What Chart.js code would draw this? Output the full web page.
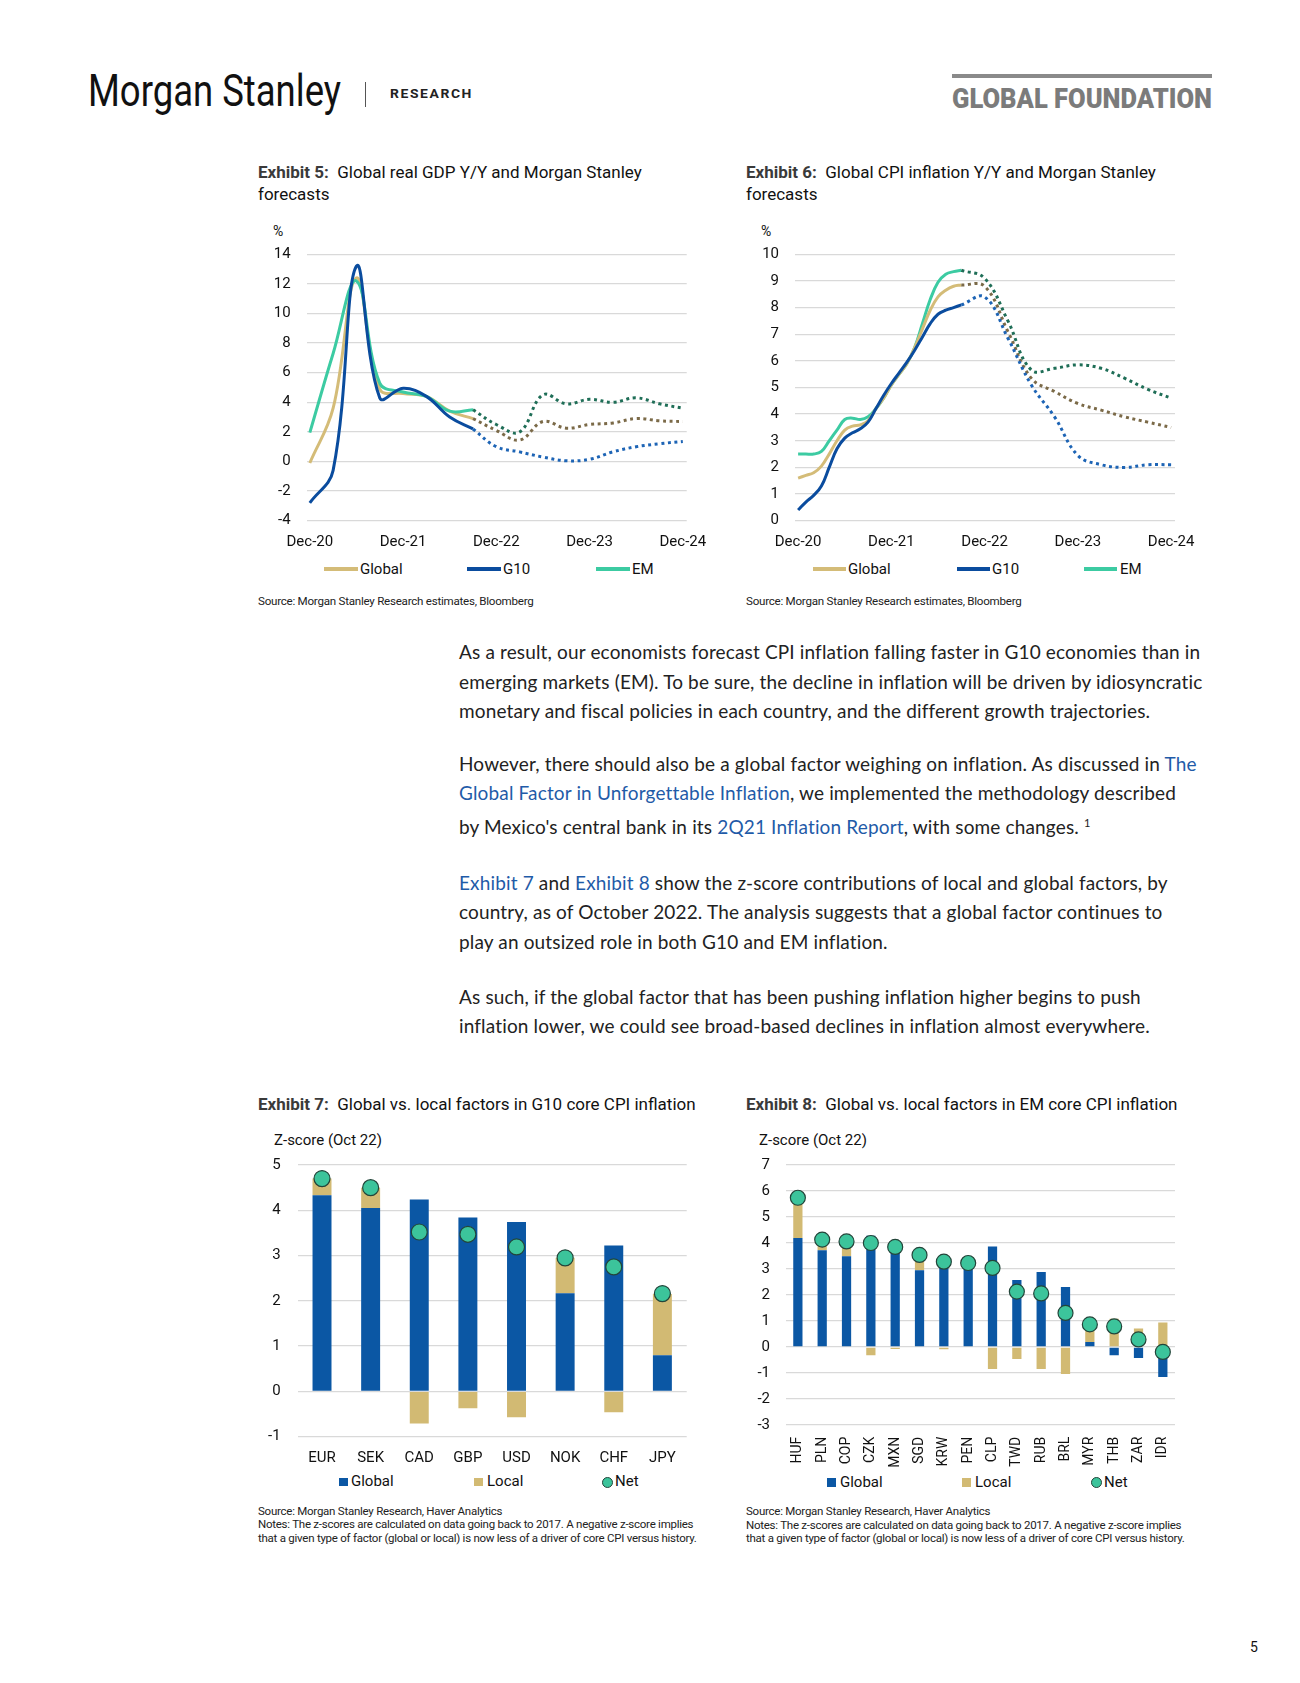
<!DOCTYPE html>
<html>
<head>
<meta charset="utf-8">
<script src="https://cdn.jsdelivr.net/npm/chart.js"></script>
<style>
  body { margin: 0; background: #fff; }
  #page { position: relative; width: 1300px; height: 1683px; overflow: hidden; font-family: Roboto, sans-serif; color: #111; }
  .abs { position: absolute; white-space: nowrap; }
  canvas.chart { position: absolute; }
  .title { font-size: 17px; line-height: 21.5px; color: #111; }
  .title b { color: #3a3a3a; }
  .src { font-size: 11.6px; line-height: 13px; color: #222; letter-spacing: -0.25px; }
  .notes { font-size: 11.5px; line-height: 13.5px; color: #222; letter-spacing: -0.25px; }
  .lg { font-size: 15px; line-height: 15px; color: #111; }
  .body { font-family: Lato, sans-serif; font-size: 19px; line-height: 29.5px; color: #222; letter-spacing: 0.15px; }
  .body a { color: #1f5ba8; text-decoration: none; }
  .body sup { font-size: 11px; line-height: 0; }
</style>
</head>
<body>
<div id="page">
  <!-- header -->
  <div class="abs" data-fit="253" style="left:88px;top:69px;font-size:44px;line-height:44px;color:#111;transform-origin:left;">Morgan Stanley</div>
  <div class="abs" style="left:365px;top:82px;width:1px;height:25px;background:#555;"></div>
  <div class="abs" data-fit="83" style="left:390px;top:87px;font-size:13px;line-height:13px;font-weight:bold;letter-spacing:1.5px;color:#222;transform-origin:left;">RESEARCH</div>
  <div class="abs" style="left:952px;top:74px;width:260px;height:4px;background:#8a8a8a;"></div>
  <div class="abs" data-fit="260" style="left:952px;top:84.5px;font-size:28px;line-height:28px;font-weight:900;color:#7b7b7b;transform-origin:left;">GLOBAL FOUNDATION</div>

  <!-- exhibit 5 -->
  <div class="abs title" style="left:258px;top:162px;"><b>Exhibit 5:</b>&nbsp; Global real GDP Y/Y and Morgan Stanley<br>forecasts</div>
  <div class="abs" style="left:273px;top:224px;font-size:14px;line-height:14px;">%</div>
  <canvas class="chart" id="c5" width="460" height="320" style="left:250px;top:240px;width:460px;height:320px;"></canvas>
  <div class="abs" style="left:324px;top:567px;width:34px;height:4px;background:#d4bc78;"></div>
  <div class="abs lg" style="left:360px;top:561.5px;">Global</div>
  <div class="abs" style="left:467px;top:567px;width:34px;height:4px;background:#0a4c9e;"></div>
  <div class="abs lg" style="left:503px;top:561.5px;">G10</div>
  <div class="abs" style="left:596px;top:567px;width:34px;height:4px;background:#3ccba2;"></div>
  <div class="abs lg" style="left:632px;top:561.5px;">EM</div>
  <div class="abs src" style="left:258px;top:594.5px;">Source: Morgan Stanley Research estimates, Bloomberg</div>

  <!-- exhibit 6 -->
  <div class="abs title" style="left:746px;top:162px;"><b>Exhibit 6:</b>&nbsp; Global CPI inflation Y/Y and Morgan Stanley<br>forecasts</div>
  <div class="abs" style="left:761px;top:224px;font-size:14px;line-height:14px;">%</div>
  <canvas class="chart" id="c6" width="460" height="320" style="left:740px;top:240px;width:460px;height:320px;"></canvas>
  <div class="abs" style="left:813px;top:567px;width:33px;height:4px;background:#d4bc78;"></div>
  <div class="abs lg" style="left:848px;top:561.5px;">Global</div>
  <div class="abs" style="left:957px;top:567px;width:33px;height:4px;background:#0a4c9e;"></div>
  <div class="abs lg" style="left:992px;top:561.5px;">G10</div>
  <div class="abs" style="left:1084px;top:567px;width:33px;height:4px;background:#3ccba2;"></div>
  <div class="abs lg" style="left:1120px;top:561.5px;">EM</div>
  <div class="abs src" style="left:746px;top:594.5px;">Source: Morgan Stanley Research estimates, Bloomberg</div>

  <!-- body text -->
  <div class="abs body" style="left:459px;top:637px;">As a result, our economists forecast CPI inflation falling faster in G10 economies than in<br>emerging markets (EM). To be sure, the decline in inflation will be driven by idiosyncratic<br>monetary and fiscal policies in each country, and the different growth trajectories.</div>
  <div class="abs body" style="left:459px;top:748.5px;">However, there should also be a global factor weighing on inflation. As discussed in <a>The</a><br><a>Global Factor in Unforgettable Inflation</a>, we implemented the methodology described<br><span style="display:inline-block;margin-top:4px;">by Mexico's central bank in its <a>2Q21 Inflation Report</a>, with some changes. <sup>1</sup></span></div>
  <div class="abs body" style="left:459px;top:867.5px;"><a>Exhibit 7</a> and <a>Exhibit 8</a> show the z-score contributions of local and global factors, by<br>country, as of October 2022. The analysis suggests that a global factor continues to<br>play an outsized role in both G10 and EM inflation.</div>
  <div class="abs body" style="left:459px;top:981.5px;">As such, if the global factor that has been pushing inflation higher begins to push<br>inflation lower, we could see broad-based declines in inflation almost everywhere.</div>

  <!-- exhibit 7 -->
  <div class="abs title" style="left:258px;top:1094px;"><b>Exhibit 7:</b>&nbsp; Global vs. local factors in G10 core CPI inflation</div>
  <div class="abs" style="left:274px;top:1132.5px;font-size:15px;line-height:15px;">Z-score (Oct 22)</div>
  <canvas class="chart" id="c7" width="460" height="320" style="left:250px;top:1150px;width:460px;height:320px;"></canvas>
  <div class="abs" style="left:339px;top:1477.5px;width:8.5px;height:8.5px;background:#0b57a4;"></div>
  <div class="abs lg" style="left:351px;top:1474px;">Global</div>
  <div class="abs" style="left:474px;top:1477.5px;width:8.5px;height:8.5px;background:#d2ba73;"></div>
  <div class="abs lg" style="left:487px;top:1474px;">Local</div>
  <div class="abs" style="left:601.5px;top:1476.5px;width:9px;height:9px;border-radius:50%;background:#3cc49b;border:1px solid #23453a;"></div>
  <div class="abs lg" style="left:615px;top:1474px;">Net</div>
  <div class="abs notes" style="left:258px;top:1504.5px;">Source: Morgan Stanley Research, Haver Analytics<br>Notes: The z-scores are calculated on data going back to 2017. A negative z-score implies<br>that a given type of factor (global or local) is now less of a driver of core CPI versus history.</div>

  <!-- exhibit 8 -->
  <div class="abs title" style="left:746px;top:1094px;"><b>Exhibit 8:</b>&nbsp; Global vs. local factors in EM core CPI inflation</div>
  <div class="abs" style="left:759px;top:1132.5px;font-size:15px;line-height:15px;">Z-score (Oct 22)</div>
  <canvas class="chart" id="c8" width="460" height="320" style="left:740px;top:1150px;width:460px;height:320px;"></canvas>
  <div class="abs" style="left:827px;top:1478px;width:9px;height:9px;background:#0b57a4;"></div>
  <div class="abs lg" style="left:840px;top:1474.5px;">Global</div>
  <div class="abs" style="left:962px;top:1478px;width:9px;height:9px;background:#d2ba73;"></div>
  <div class="abs lg" style="left:975px;top:1474.5px;">Local</div>
  <div class="abs" style="left:1090.5px;top:1477px;width:9px;height:9px;border-radius:50%;background:#3cc49b;border:1px solid #23453a;"></div>
  <div class="abs lg" style="left:1104px;top:1474.5px;">Net</div>
  <div class="abs notes" style="left:746px;top:1505px;">Source: Morgan Stanley Research, Haver Analytics<br>Notes: The z-scores are calculated on data going back to 2017. A negative z-score implies<br>that a given type of factor (global or local) is now less of a driver of core CPI versus history.</div>

  <div class="abs" style="left:1250px;top:1640px;font-size:14px;line-height:14px;">5</div>
</div>

<script>
// ---- data: Exhibit 5 (real GDP Y/Y, quarterly) ----
const gdpActualDates = ['2020-12', '2021-03', '2021-06', '2021-09', '2021-12', '2022-03', '2022-06', '2022-09'];
const gdpGlobalActual = [-0.1, 3.6, 12.4, 4.9, 4.6, 4.4, 3.4, 2.9];
const gdpG10Actual = [-2.8, -0.6, 13.2, 4.3, 4.95, 4.4, 3.0, 2.2];
const gdpEMActual = [1.95, 7.3, 12.2, 5.3, 4.7, 4.4, 3.4, 3.5];

const forecastDates = ['2022-09', '2022-12', '2023-03', '2023-06', '2023-09', '2023-12', '2024-03', '2024-06', '2024-09', '2024-12'];
const gdpGlobalForecast = [2.9, 2.1, 1.45, 2.7, 2.25, 2.5, 2.6, 2.9, 2.75, 2.7];
const gdpG10Forecast = [2.2, 1.0, 0.65, 0.3, 0.05, 0.15, 0.65, 1.0, 1.2, 1.35];
const gdpEMForecast = [3.5, 2.5, 2.0, 4.5, 3.9, 4.2, 4.0, 4.3, 3.9, 3.6];

// ---- data: Exhibit 6 (CPI Y/Y, monthly actual, quarterly forecast) ----
const cpiActualDates = ['2020-12', '2021-01', '2021-02', '2021-03', '2021-04', '2021-05', '2021-06', '2021-07',
  '2021-08', '2021-09', '2021-10', '2021-11', '2021-12', '2022-01', '2022-02', '2022-03', '2022-04', '2022-05',
  '2022-06', '2022-07', '2022-08', '2022-09'];
const cpiGlobalActual = [1.6, 1.7, 1.8, 2.05, 2.5, 3.0, 3.4, 3.55, 3.6, 3.75, 4.2, 4.6, 5.1, 5.5, 5.9, 6.5, 7.2, 7.9, 8.4, 8.65, 8.8, 8.85];
const cpiG10Actual = [0.4, 0.7, 0.95, 1.3, 2.0, 2.7, 3.1, 3.3, 3.45, 3.7, 4.2, 4.7, 5.15, 5.55, 5.95, 6.4, 6.9, 7.4, 7.75, 7.9, 8.0, 8.1];
const cpiEMActual = [2.5, 2.5, 2.5, 2.6, 3.0, 3.4, 3.8, 3.85, 3.8, 3.9, 4.2, 4.6, 5.1, 5.5, 5.9, 6.5, 7.4, 8.3, 8.95, 9.25, 9.35, 9.4];
const cpiGlobalForecast = [8.85, 8.8, 7.1, 5.35, 4.85, 4.4, 4.15, 3.9, 3.7, 3.5];
const cpiG10Forecast = [8.1, 8.4, 6.85, 5.1, 3.9, 2.45, 2.1, 2.0, 2.1, 2.1];
const cpiEMForecast = [9.4, 9.1, 7.5, 5.66, 5.72, 5.85, 5.72, 5.35, 4.93, 4.6];

const dateTicks = ['2020-12', '2021-12', '2022-12', '2023-12', '2024-12'];
const dateTickLabels = ['Dec-20', 'Dec-21', 'Dec-22', 'Dec-23', 'Dec-24'];

// ---- data: Exhibit 7 (G10 z-scores) ----
const g10Currencies = ['EUR', 'SEK', 'CAD', 'GBP', 'USD', 'NOK', 'CHF', 'JPY'];
const g10Global = [4.33, 4.05, 4.24, 3.84, 3.74, 2.17, 3.22, 0.80];
const g10Local = [0.37, 0.45, -0.71, -0.37, -0.57, 0.78, -0.46, 1.35];
const g10Net = [4.70, 4.50, 3.52, 3.47, 3.19, 2.95, 2.75, 2.16];

// ---- data: Exhibit 8 (EM z-scores) ----
const emCurrencies = ['HUF', 'PLN', 'COP', 'CZK', 'MXN', 'SGD', 'KRW', 'PEN', 'CLP', 'TWD', 'RUB', 'BRL', 'MYR', 'THB', 'ZAR', 'IDR'];
const emGlobal = [4.19, 3.72, 3.49, 4.28, 3.93, 2.95, 3.37, 3.20, 3.87, 2.58, 2.88, 2.31, 0.19, -0.32, -0.42, -1.15];
const emLocal = [1.55, 0.41, 0.57, -0.32, -0.08, 0.59, -0.09, 0.03, -0.85, -0.46, -0.85, -1.04, 0.68, 1.09, 0.71, 0.94];
const emNet = [5.74, 4.13, 4.06, 4.00, 3.85, 3.54, 3.28, 3.23, 3.04, 2.13, 2.06, 1.31, 0.87, 0.79, 0.29, -0.19];

// colours
const cGlobal = '#d4bc78', cG10 = '#0a4c9e', cEM = '#3ccba2';
const cGlobalDot = '#7b6a48', cG10Dot = '#1d64b5', cEMDot = '#1f6e57';
const cBarGlobal = '#0b57a4', cBarLocal = '#d2ba73', cNet = '#3cc49b';
const gridColor = '#d9d9d9';

Chart.defaults.font.family = 'Roboto, sans-serif';
Chart.defaults.font.size = 15;
Chart.defaults.color = '#111';

// stretch header words to their width
document.querySelectorAll('[data-fit]').forEach(function (el) {
  const w = el.getBoundingClientRect().width;
  el.style.transform = 'scaleX(' + (el.dataset.fit / w) + ')';
});

// months after Dec-2020
function monthIndex(d) {
  const parts = d.split('-').map(Number);
  return (parts[0] - 2020) * 12 + (parts[1] - 12);
}
function points(dates, values) {
  return dates.map((d, i) => ({ x: monthIndex(d), y: values[i] }));
}

// fixed axis sizes so the plot area lands where the original has it
function fixWidth(w) {
  return function (axis) { axis.width = w; axis.paddingTop = 0; axis.paddingBottom = 0; };
}
function fixHeight(h) {
  return function (axis) { axis.height = h; axis.paddingLeft = 0; axis.paddingRight = 0; };
}

function solid(label, data, color) {
  return { label: label, data: data, borderColor: color, borderWidth: 3, pointRadius: 0, tension: 0.4, fill: false };
}
function dotted(label, data, color) {
  return { label: label, data: data, borderColor: color, borderWidth: 3, borderDash: [3, 3.6], borderCapStyle: 'butt',
    pointRadius: 0, tension: 0.4, fill: false };
}

function lineChart(id, datasets, yMin, yMax, yStep, yWidth, padRight) {
  return new Chart(document.getElementById(id), {
    type: 'line',
    data: { datasets: datasets },
    options: {
      responsive: false,
      animation: false,
      devicePixelRatio: 1,
      layout: { padding: { top: 14.3, right: padRight, left: 0, bottom: 0 } },
      plugins: { legend: { display: false }, tooltip: { enabled: false } },
      scales: {
        x: {
          type: 'linear',
          min: -0.4, max: 48.5,
          afterBuildTicks: function (axis) { axis.ticks = dateTicks.map(d => ({ value: monthIndex(d) })); },
          ticks: { padding: 12.3, maxRotation: 0, autoSkip: false,
            callback: function (v) { return dateTickLabels[dateTicks.map(monthIndex).indexOf(v)]; } },
          grid: { display: false, drawTicks: false },
          border: { display: false },
          afterFit: fixHeight(39.3)
        },
        y: {
          min: yMin, max: yMax,
          ticks: { stepSize: yStep, padding: 16 },
          grid: { color: gridColor, lineWidth: 1.3, drawTicks: false },
          border: { display: false },
          afterFit: fixWidth(yWidth)
        }
      }
    }
  });
}

lineChart('c5', [
  solid('Global', points(gdpActualDates, gdpGlobalActual), cGlobal),
  solid('EM', points(gdpActualDates, gdpEMActual), cEM),
  solid('G10', points(gdpActualDates, gdpG10Actual), cG10),
  dotted('Global fcst', points(forecastDates, gdpGlobalForecast), cGlobalDot),
  dotted('G10 fcst', points(forecastDates, gdpG10Forecast), cG10Dot),
  dotted('EM fcst', points(forecastDates, gdpEMForecast), cEMDot)
].reverse(), -4, 14, 2, 56.7, 23.3);

lineChart('c6', [
  solid('EM', points(cpiActualDates, cpiEMActual), cEM),
  solid('Global', points(cpiActualDates, cpiGlobalActual), cGlobal),
  solid('G10', points(cpiActualDates, cpiG10Actual), cG10),
  dotted('Global fcst', points(forecastDates, cpiGlobalForecast), cGlobalDot),
  dotted('G10 fcst', points(forecastDates, cpiG10Forecast), cG10Dot),
  dotted('EM fcst', points(forecastDates, cpiEMForecast), cEMDot)
].reverse(), 0, 10, 1, 55, 25);

function zChart(id, labels, glob, loc, net, yMin, yMax, opts) {
  return new Chart(document.getElementById(id), {
    type: 'bar',
    data: {
      labels: labels,
      datasets: [
        { type: 'line', label: 'Net', data: net, stack: 'net', order: 0, showLine: false,
          pointRadius: opts.r, pointBackgroundColor: cNet, pointBorderColor: '#23453a', pointBorderWidth: 1.2 },
        { label: 'Global', data: glob, stack: 'f', order: 1, backgroundColor: cBarGlobal,
          categoryPercentage: 1, barPercentage: opts.bar },
        { label: 'Local', data: loc, stack: 'f', order: 1, backgroundColor: cBarLocal,
          categoryPercentage: 1, barPercentage: opts.bar }
      ]
    },
    options: {
      responsive: false,
      animation: false,
      devicePixelRatio: 1,
      layout: { padding: { top: 15, right: opts.padRight, left: 0, bottom: 0 } },
      plugins: { legend: { display: false }, tooltip: { enabled: false } },
      scales: {
        x: {
          stacked: true,
          ticks: { padding: opts.xPad, autoSkip: false, minRotation: opts.rot, maxRotation: opts.rot,
            font: { size: opts.xFont } },
          grid: { display: false, drawTicks: false },
          border: { display: false },
          afterFit: fixHeight(opts.xHeight)
        },
        y: {
          stacked: true,
          min: yMin, max: yMax,
          ticks: { stepSize: 1, padding: opts.yPad },
          grid: { color: gridColor, lineWidth: 1.3, drawTicks: false },
          border: { display: false },
          afterFit: fixWidth(opts.yWidth)
        }
      }
    }
  });
}

zChart('c7', g10Currencies, g10Global, g10Local, g10Net, -1, 5,
  { r: 8, bar: 0.39, padRight: 23.3, xPad: 13, rot: 0, xFont: 15, xHeight: 33.3, yPad: 17, yWidth: 47.7 });
zChart('c8', emCurrencies, emGlobal, emLocal, emNet, -3, 7,
  { r: 7.5, bar: 0.38, padRight: 25, xPad: 11.7, rot: 90, xFont: 14, xHeight: 45, yPad: 15.7, yWidth: 45.7 });
</script>
</body>
</html>
